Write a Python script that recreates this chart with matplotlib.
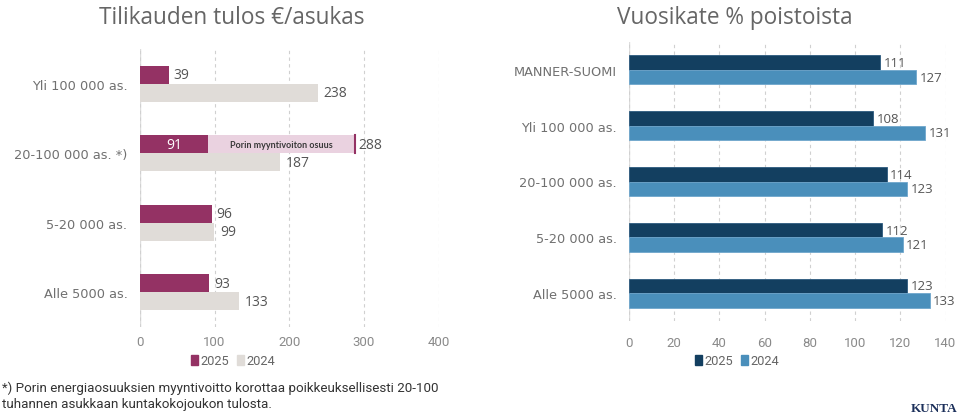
import numpy as np
import matplotlib.pyplot as plt
from matplotlib.patches import Patch

plt.rcParams['font.family'] = ['Open Sans', 'DejaVu Sans']

# Tilikauden tulos €/asukas
left_cats = ['Yli 100 000 as.', '20-100 000 as. *)', '5-20 000 as.', 'Alle 5000 as.']
left_2025 = [39, 91, 96, 93]
left_2024 = [238, 187, 99, 133]
porin_total = 288  # 20-100 000 incl. Porin myyntivoitto

# Vuosikate % poistoista
right_cats = ['MANNER-SUOMI', 'Yli 100 000 as.', '20-100 000 as.', '5-20 000 as.', 'Alle 5000 as.']
right_2025 = [111, 108, 114, 112, 123]
right_2024 = [127, 131, 123, 121, 133]

c25_l, c24_l = '#943264', '#e0dcd8'
c25_r, c24_r = '#133f60', '#4a8fbb'
pink = '#ead2e0'
txt = '#555555'
tick = '#8a8a8a'

fig = plt.figure(figsize=(9.68, 4.14), dpi=100)
W, H = 968, 414

def axes_px(x0, x1, y0, y1):
    return fig.add_axes([x0 / W, 1 - y1 / H, (x1 - x0) / W, (y1 - y0) / H])

def style(ax, xticks, pad):
    for s in ax.spines.values():
        s.set_visible(False)
    ax.set_xticks(xticks)
    ax.xaxis.grid(True, linestyle=(0, (3, 3)), color='#d0d0d0', linewidth=0.8)
    ax.set_axisbelow(True)
    ax.axvline(0, color='#dddddd', linewidth=1.0, zorder=0)
    ax.tick_params(axis='both', length=0)
    ax.tick_params(axis='x', colors=tick, labelsize=9.5, pad=pad)
    ax.tick_params(axis='y', colors='#707070', labelsize=9.3, pad=9)
    for lab in ax.get_xticklabels():
        lab.set_family(['Roboto', 'DejaVu Sans'])
    for lab in ax.get_yticklabels():
        lab.set_family(['DejaVu Sans'])

bh = 0.26

# left chart
ax1 = axes_px(140, 438.5, 50, 328)
y = np.arange(len(left_cats))
ax1.barh(y - bh / 2, left_2025, height=bh, color=c25_l, zorder=3)
ax1.barh(y + bh / 2, left_2024, height=bh, color=c24_l, zorder=3)
# Porin share
i = 1
ax1.barh(y[i] - bh / 2, porin_total - left_2025[i], left=left_2025[i], height=bh,
         color=pink, edgecolor='none', zorder=2)
ax1.plot([porin_total, porin_total], [y[i] - bh, y[i]], color=c25_l, linewidth=1.5, zorder=4)
ax1.text((left_2025[i] + porin_total) / 2, y[i] - bh / 2, 'Porin myyntivoiton osuus',
         ha='center', va='center', fontsize=6.5, color='#3a3a3a', zorder=5,
         fontweight='bold', family=['Lato', 'DejaVu Sans'])
for k in range(len(left_cats)):
    if k == i:
        ax1.text(left_2025[k] / 2, y[k] - bh / 2, str(left_2025[k]), ha='center', va='center',
                 color='white', fontsize=10)
        ax1.text(porin_total + 5, y[k] - bh / 2, str(porin_total), ha='left', va='center',
                 color=txt, fontsize=10)
    else:
        ax1.text(left_2025[k] + 6, y[k] - bh / 2, str(left_2025[k]), ha='left', va='center',
                 color=txt, fontsize=10)
    ax1.text(left_2024[k] + 8, y[k] + bh / 2, str(left_2024[k]), ha='left', va='center',
             color=txt, fontsize=10)
ax1.set_xlim(0, 400)
ax1.set_ylim(len(left_cats) - 0.5, -0.5)
ax1.set_yticks(y)
ax1.set_yticklabels(left_cats)
style(ax1, [0, 100, 200, 300, 400], 6)

# right chart
ax2 = axes_px(629, 945.5, 43, 322)
y2 = np.arange(len(right_cats))
ax2.barh(y2 - bh / 2, right_2025, height=bh, color=c25_r, edgecolor='#2d5a7e', linewidth=0.6, zorder=3)
ax2.barh(y2 + bh / 2, right_2024, height=bh, color=c24_r, edgecolor='#6fa6cc', linewidth=0.6, zorder=3)
for k in range(len(right_cats)):
    ax2.text(right_2025[k] + 1.5, y2[k] - bh / 2, str(right_2025[k]), ha='left', va='center',
             color=txt, fontsize=9.5)
    ax2.text(right_2024[k] + 1.5, y2[k] + bh / 2, str(right_2024[k]), ha='left', va='center',
             color=txt, fontsize=9.5)
ax2.set_xlim(0, 140)
ax2.set_ylim(len(right_cats) - 0.5, -0.5)
ax2.set_yticks(y2)
ax2.set_yticklabels(right_cats)
style(ax2, [0, 20, 40, 60, 80, 100, 120, 140], 10.5)

# titles
fig.text(232 / W, 1 - 18 / H, 'Tilikauden tulos €/asukas', ha='center', va='center',
         fontsize=16.3, color='#666666')
fig.text(735 / W, 1 - 18 / H, 'Vuosikate % poistoista', ha='center', va='center',
         fontsize=16.3, color='#666666')

# legends
for cx, cols in [(233, (c25_l, c24_l)), (737, (c25_r, c24_r))]:
    handles = [Patch(color=cols[0], label='2025'), Patch(color=cols[1], label='2024')]
    leg = fig.legend(handles=handles, loc='center', bbox_to_anchor=(cx / W, 1 - 362 / H),
                     ncol=2, frameon=False, handlelength=0.55, handleheight=0.85,
                     handletextpad=0.2, columnspacing=0.6,
                     prop={'family': ['Roboto', 'DejaVu Sans'], 'size': 9.3})
    for t in leg.get_texts():
        t.set_color('#666666')

# footnote
fig.text(2 / W, 1 - 396 / H,
         '*) Porin energiaosuuksien myyntivoitto korottaa poikkeuksellisesti 20-100\n'
         'tuhannen asukkaan kuntakokojoukon tulosta.',
         ha='left', va='center', fontsize=9.6, color='#333333', linespacing=1.3,
         family=['Roboto', 'DejaVu Sans'])
fig.text(911 / W, 1 - 409 / H, 'KUNTA', ha='left', va='center', fontsize=9.5,
         fontweight='bold', color='#1b2f5a', family=['Liberation Serif', 'DejaVu Serif'])

fig.savefig('out.png', dpi=100)
